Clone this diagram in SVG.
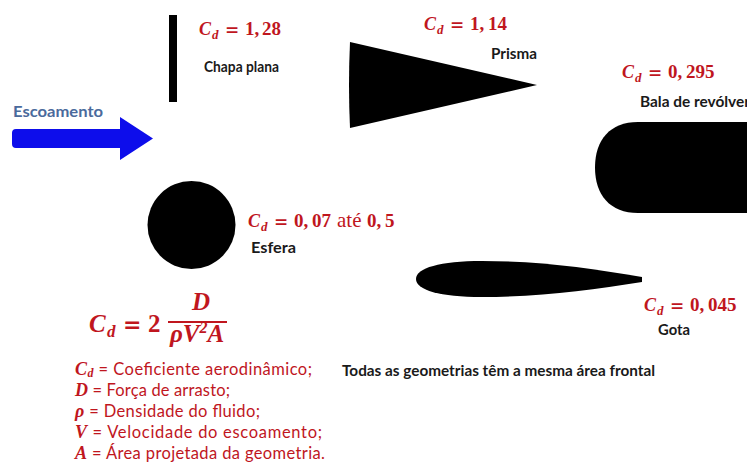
<svg xmlns="http://www.w3.org/2000/svg" width="747" height="466" viewBox="0 0 747 466">
<style>
.lbl{font-family:Lato,"Open Sans","Liberation Sans",sans-serif;font-weight:bold;font-size:14.5px;fill:#1a1a1a}
.cd{font-family:"Liberation Serif",serif;font-weight:bold;font-size:19px;fill:#C0161E}
.it{font-style:italic;font-size:18px}
.sub{font-size:13px;font-style:italic}
.eq{font-family:"DejaVu Serif",serif;font-size:17px;font-style:normal}
.nw{font-weight:normal;font-size:21px}
.leg{font-family:Lato,"Open Sans","Liberation Sans",sans-serif;font-size:16.5px;fill:#C0161E}
.sym{font-family:"Liberation Serif",serif;font-weight:bold;font-style:italic;font-size:18px}
.shape{fill:#000}
</style>
<rect width="747" height="466" fill="#fff"/>

<g id="flow">
  <path d="M16,129 L120,129 L120,117 L153,138.5 L120,160 L120,148 L16,148 Q12,148 12,144 L12,133 Q12,129 16,129 Z" fill="#0D0DEB"/>
  <text x="13" y="117" class="lbl" style="fill:#4A6A9C" textLength="90" lengthAdjust="spacingAndGlyphs">Escoamento</text>
</g>

<g id="chapa-plana">
  <rect x="169" y="15" width="8" height="87" class="shape"/>
  <text y="35" class="cd"><tspan x="199" class="it">C</tspan><tspan x="212" dy="4" class="sub">d</tspan><tspan x="225" dy="-4" class="eq">=</tspan><tspan x="245">1,</tspan><tspan x="262">28</tspan></text>
  <text x="204" y="72" class="lbl" textLength="75" lengthAdjust="spacingAndGlyphs">Chapa plana</text>
</g>

<g id="prisma">
  <path d="M350,42 L537,85 L350,128 Q348,85 350,42 Z" class="shape"/>
  <text y="30" class="cd"><tspan x="424" class="it">C</tspan><tspan x="437" dy="4" class="sub">d</tspan><tspan x="450" dy="-4" class="eq">=</tspan><tspan x="470">1,</tspan><tspan x="488">14</tspan></text>
  <text x="491" y="59" class="lbl" textLength="46" lengthAdjust="spacingAndGlyphs">Prisma</text>
</g>

<g id="bala">
  <path d="M747,122 L638,122 C610,122 595,140 595,167.5 C595,195 610,213 638,213 L747,213 Z" class="shape"/>
  <text y="78" class="cd"><tspan x="622" class="it">C</tspan><tspan x="635" dy="4" class="sub">d</tspan><tspan x="648" dy="-4" class="eq">=</tspan><tspan x="668">0,</tspan><tspan x="686">295</tspan></text>
  <text x="640" y="107" class="lbl" textLength="110" lengthAdjust="spacingAndGlyphs">Bala de revólver</text>
</g>

<g id="esfera">
  <circle cx="191.5" cy="225" r="44" class="shape"/>
  <text y="227" class="cd"><tspan x="248" class="it">C</tspan><tspan x="261" dy="4" class="sub">d</tspan><tspan x="274" dy="-4" class="eq">=</tspan><tspan x="294">0,</tspan><tspan x="312">07</tspan><tspan x="337" class="nw">até</tspan><tspan x="367">0,</tspan><tspan x="385">5</tspan></text>
  <text x="251" y="253" class="lbl" textLength="45" lengthAdjust="spacingAndGlyphs">Esfera</text>
</g>

<g id="gota">
  <path d="M642,277 C590,268 540,261 482,261 C440,261 416,268 416,279 C416,290 440,297 482,297 C540,297 590,290 642,282 Z" class="shape"/>
  <text y="311" class="cd"><tspan x="644" class="it">C</tspan><tspan x="657" dy="4" class="sub">d</tspan><tspan x="670" dy="-4" class="eq">=</tspan><tspan x="690">0,</tspan><tspan x="708">045</tspan></text>
  <text x="658" y="335" class="lbl" textLength="32" lengthAdjust="spacingAndGlyphs">Gota</text>
</g>

<g id="formula">
  <text y="332" class="cd" style="font-size:25px"><tspan x="89" style="font-style:italic">C</tspan><tspan x="107" dy="5" style="font-size:17px;font-style:italic">d</tspan><tspan x="123" dy="-5" class="eq" style="font-size:22px">=</tspan><tspan x="148">2</tspan></text>
  <text x="201" y="310" class="cd" style="font-size:25px;font-style:italic" text-anchor="middle">D</text>
  <rect x="168" y="321" width="59" height="2" fill="#C0161E"/>
  <text x="197" y="342" class="cd" style="font-size:25px;font-style:italic" text-anchor="middle">ρV<tspan dy="-9" style="font-size:16px">2</tspan><tspan dy="9">A</tspan></text>
</g>

<g id="legenda">
  <text x="75" y="375" class="leg" textLength="237"><tspan class="sym">C</tspan><tspan class="sym" style="font-size:12px" dy="2">d</tspan><tspan dy="-2"> = Coeficiente aerodinâmico;</tspan></text>
  <text x="75" y="396" class="leg" textLength="155"><tspan class="sym">D</tspan> = Força de arrasto;</text>
  <text x="75" y="417" class="leg" textLength="185"><tspan class="sym">ρ</tspan> = Densidade do fluido;</text>
  <text x="75" y="438" class="leg" textLength="247"><tspan class="sym">V</tspan> = Velocidade do escoamento;</text>
  <text x="75" y="459" class="leg" textLength="250"><tspan class="sym">A</tspan> = Área projetada da geometria.</text>
</g>

<g id="nota">
  <text x="342" y="376" class="lbl" textLength="313" lengthAdjust="spacingAndGlyphs">Todas as geometrias têm a mesma área frontal</text>
</g>

<g id="connectors"/>
</svg>
